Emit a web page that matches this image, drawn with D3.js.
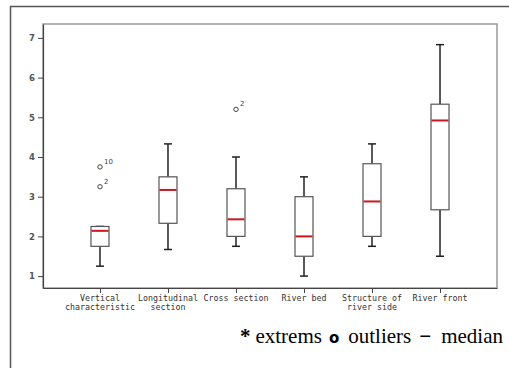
<!DOCTYPE html>
<html>
<head>
<meta charset="utf-8">
<script src="https://cdn.jsdelivr.net/npm/d3@7"></script>
<style>
  html, body { margin: 0; padding: 0; background: #fff; }
  svg { display: block; }
</style>
</head>
<body>
<div id="chart"></div>
<script>
// categories and their axis label lines
const categories = ["Vertical characteristic", "Longitudinal section", "Cross section", "River bed", "Structure of river side", "River front"];
const labelLines = [["Vertical", "characteristic"], ["Longitudinal", "section"], ["Cross section"], ["River bed"], ["Structure of", "river side"], ["River front"]];

// box statistics
const whiskerLow  = [1.25, 1.67, 1.75, 1.0, 1.75, 1.5];
const q1          = [1.75, 2.33, 2.0, 1.5, 2.0, 2.67];
const median      = [2.14, 3.17, 2.43, 2.0, 2.88, 4.92];
const q3          = [2.25, 3.5, 3.2, 3.0, 3.83, 5.33];
const whiskerHigh = [2.25, 4.33, 4.0, 3.5, 4.33, 6.83];

// outliers: category index, value, case label
const outlierCat   = [0, 0, 2];
const outlierValue = [3.75, 3.25, 5.2];
const outlierLabel = ["10", "2", "2"];

const yTicks = [1, 2, 3, 4, 5, 6, 7];

const W = 509, H = 368;
const margin = { top: 24, right: 12, bottom: 80, left: 43 };
const width = W - margin.left - margin.right,
      height = H - margin.top - margin.bottom;

const svg = d3.select("#chart").append("svg")
  .attr("width", W)
  .attr("height", H);

svg.append("rect").attr("width", W).attr("height", H).attr("fill", "#fff");

// outer frame
svg.append("rect")
  .attr("x", 10.5).attr("y", 6.5)
  .attr("width", W + 10).attr("height", H + 10)
  .attr("fill", "none")
  .attr("stroke", "#555")
  .attr("stroke-width", 1.5);

const g = svg.append("g")
  .attr("transform", `translate(${margin.left},${margin.top})`);

var x = d3.scalePoint().domain(categories).range([0, width]).padding(0.838);
var y = d3.scaleLinear().domain([0.7, 7.35]).range([height, 0]);

// plot frame
g.append("rect")
  .attr("x", 0).attr("y", 0)
  .attr("width", width).attr("height", height)
  .attr("fill", "none")
  .attr("stroke", "#9a9a9a")
  .attr("stroke-width", 1.5);

// left axis
const yAxis = g.append("g")
  .call(d3.axisLeft(y).tickValues(yTicks).tickSizeInner(5).tickSizeOuter(0).tickPadding(3).tickFormat(d3.format("d")));
yAxis.select(".domain").attr("stroke", "#444").attr("stroke-width", 1.2);
yAxis.selectAll(".tick line").attr("stroke", "#444");
yAxis.selectAll(".tick text")
  .attr("fill", "#555")
  .style("font-family", "DejaVu Sans")
  .style("font-size", "8.5px")
  .style("font-weight", "bold");

// bottom axis
const xAxis = g.append("g")
  .attr("transform", `translate(0,${height})`)
  .call(d3.axisBottom(x).tickSizeInner(5).tickSizeOuter(0).tickFormat(""));
xAxis.select(".domain").attr("stroke", "#444").attr("stroke-width", 1.2);
xAxis.selectAll(".tick line").attr("stroke", "#444");

categories.forEach((c, i) => {
  const t = g.append("text")
    .attr("x", x(c))
    .attr("y", height + 13)
    .attr("text-anchor", "middle")
    .attr("fill", "#333")
    .style("font-family", "DejaVu Sans Mono")
    .style("font-size", "8.3px");
  labelLines[i].forEach((line, j) => {
    t.append("tspan")
      .attr("x", x(c))
      .attr("dy", j === 0 ? 0 : 8.6)
      .text(line);
  });
});

// boxes
const boxW = 18, capW = 8;
categories.forEach((c, i) => {
  const cx = x(c);
  const box = g.append("g");
  // whiskers
  box.append("line")
    .attr("x1", cx).attr("x2", cx)
    .attr("y1", y(whiskerLow[i])).attr("y2", y(q1[i]))
    .attr("stroke", "#222").attr("stroke-width", 1.5);
  box.append("line")
    .attr("x1", cx).attr("x2", cx)
    .attr("y1", y(q3[i])).attr("y2", y(whiskerHigh[i]))
    .attr("stroke", "#222").attr("stroke-width", 1.5);
  [whiskerLow[i], whiskerHigh[i]].forEach(v => {
    box.append("line")
      .attr("x1", cx - capW / 2).attr("x2", cx + capW / 2)
      .attr("y1", y(v)).attr("y2", y(v))
      .attr("stroke", "#222").attr("stroke-width", 1.5);
  });
  box.append("rect")
    .attr("x", cx - boxW / 2)
    .attr("y", y(q3[i]))
    .attr("width", boxW)
    .attr("height", y(q1[i]) - y(q3[i]))
    .attr("fill", "#fff")
    .attr("stroke", "#555")
    .attr("stroke-width", 1.2);
  box.append("line")
    .attr("x1", cx - boxW / 2 + 0.5).attr("x2", cx + boxW / 2 - 0.5)
    .attr("y1", y(median[i])).attr("y2", y(median[i]))
    .attr("stroke", "#c8191e").attr("stroke-width", 2);
});

// outliers
outlierValue.forEach((v, i) => {
  const cx = x(categories[outlierCat[i]]);
  g.append("circle")
    .attr("cx", cx).attr("cy", y(v)).attr("r", 2.2)
    .attr("fill", "none").attr("stroke", "#444").attr("stroke-width", 1);
  g.append("text")
    .attr("x", cx + 4).attr("y", y(v) - 3)
    .attr("fill", "#444")
    .style("font-family", "DejaVu Sans")
    .style("font-size", "7px")
    .text(outlierLabel[i]);
});

// legend
const leg = svg.append("text")
  .attr("x", 503).attr("y", 343)
  .attr("text-anchor", "end")
  .attr("fill", "#000")
  .style("font-family", "Liberation Serif")
  .style("font-size", "21px");
leg.append("tspan").style("font-weight", "bold").text("*");
leg.append("tspan").attr("dx", 5).text("extrems");
leg.append("tspan").attr("dx", 7).style("font-family", "DejaVu Sans").style("font-weight", "bold").style("font-size", "15px").text("o");
leg.append("tspan").attr("dx", 9).text("outliers");
leg.append("tspan").attr("dx", 8).style("font-weight", "bold").text("\u2212");
leg.append("tspan").attr("dx", 10).text("median");
</script>
</body>
</html>
